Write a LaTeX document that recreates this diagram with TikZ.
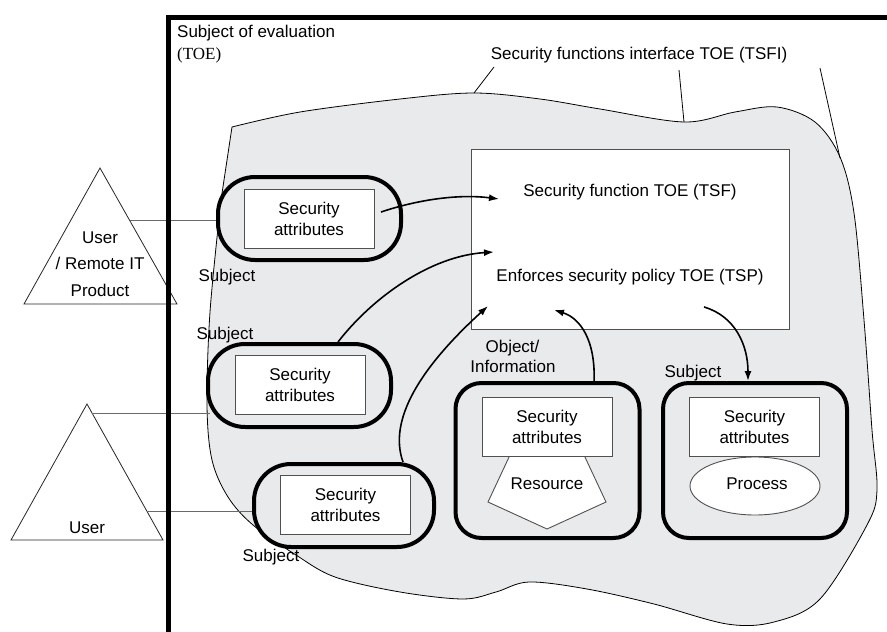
\documentclass[tikz,border=0pt]{standalone}
\usepackage{fontspec}
\setmainfont{Liberation Sans}
\newfontfamily\timesfont{Liberation Serif}
\usetikzlibrary{arrows.meta,shapes.geometric}
\definecolor{blobfill}{RGB}{233,234,236}
\definecolor{linegray}{RGB}{105,105,105}
\definecolor{rectgray}{RGB}{80,80,80}
\begin{document}
\begin{tikzpicture}[x=1pt,y=-1pt,
  every node/.style={font=\fontsize{17}{20.5}\selectfont, inner sep=0pt},
  subjbox/.style={draw=black, fill=blobfill, line width=4pt, rounded corners=37pt, minimum width=183pt, minimum height=83pt},
  bigbox/.style={draw=black, fill=blobfill, line width=4pt, rounded corners=26pt, minimum width=184pt, minimum height=155pt},
  attrbox/.style={draw=rectgray, line width=0.9pt, fill=white, minimum width=130pt, minimum height=59pt, align=center},
  arr/.style={line width=1.6pt, -{Latex[length=10pt,width=7pt]}},
  conn/.style={draw=linegray, line width=1pt},
  leader/.style={line width=0.8pt},
  tri/.style={draw=black!85, line width=0.8pt, fill=white},
  lbl/.style={anchor=base}
]
\useasboundingbox (0,0) rectangle (887,632);

% blob (TOE security functions area)
\draw[fill=blobfill, line width=0.8pt, line join=round] plot[smooth, tension=0.55] coordinates {
 (232,127) (300,112) (400,99) (474,93) (540,99) (600,109) (684,122) (735,112)
 (777,107) (815,122) (840,157) (854,213) (864,320) (872,430) (877,490) (867,525)
 (820,599) (774,622) (727,624) (654,604) (587,589) (529,582) (496,592) (463,599)
 (400,592) (335,577) (296,555) (253,525) (228,497) (212,460) (207,405) (210,312) (221,200)} -- cycle;

% TSFI label and leader lines
\node[lbl] (tsfi) at (639,59) {Security functions interface TOE (TSFI)};
\coordinate (l1a) at (494,67); \coordinate (l1b) at (474,93);
\coordinate (l2a) at (679,70); \coordinate (l2b) at (684,122);
\coordinate (l3a) at (820,68); \coordinate (l3b) at (840,158);
\draw[leader] (l1a) -- (l1b);
\draw[leader] (l2a) -- (l2b);
\draw[leader] (l3a) -- (l3b);

% TSF rectangle
\node[draw=rectgray, line width=0.9pt, fill=white, minimum width=318pt, minimum height=180pt] (tsf) at (630,239) {};
\node[lbl] (tsftxt) at (630,196) {Security function TOE (TSF)};
\node[lbl] (tsptxt) at (630,281) {Enforces security policy TOE (TSP)};

% triangles (users)
\draw[tri] (100,168) -- (177,304) -- (24,304) -- cycle;
\draw[tri] (87,404) -- (163,540) -- (11,540) -- cycle;
\node[lbl] (u1a) at (100,243) {User};
\node[lbl] (u1b) at (100,269) {/ Remote IT};
\node[lbl] (u1c) at (100,296) {Product};
\node[lbl] (u2) at (87,533) {User};

% subject boxes
\node[subjbox] (sb1) at (309.5,218.5) {};
\node[subjbox] (sb2) at (299.5,385.5) {};
\node[subjbox, minimum width=180pt] (sb3) at (344,505.5) {};
\node[bigbox] (ob4) at (547.5,460.5) {};
\node[bigbox] (sb5) at (755,460.5) {};

% connectors from users
\coordinate (t1r) at (129.5,220);
\coordinate (t2ra) at (92,413);
\coordinate (t2rb) at (147,511);
\draw[conn] (t1r) -- (sb1.west |- t1r);
\draw[conn] (t2ra) -- (210,413) coordinate (sb2l);
\draw[conn] (t2rb) -- (sb3.west |- t2rb);

% inner shapes
\draw[draw=rectgray, line width=0.9pt, fill=white] (510,455) -- (488,502) -- (547,529) -- (606,502) -- (584,455);
\node[draw=rectgray, line width=0.9pt, fill=white, ellipse, minimum width=130pt, minimum height=58pt] (proc) at (755,486) {};
\node[attrbox] (a1) at (309,219) {Security\\attributes};
\node[attrbox] (a2) at (300,385) {Security\\attributes};
\node[attrbox] (a3) at (345.5,505) {Security\\attributes};
\node[attrbox] (a4) at (547,427) {Security\\attributes};
\node[attrbox] (a5) at (754.5,427) {Security\\attributes};
\node[lbl] (res) at (547,489) {Resource};
\node[lbl] (proctxt) at (757,489) {Process};

% labels
\node[lbl, anchor=base west] (soe) at (177,37) {Subject of evaluation};
\node[lbl, anchor=base west] (toe) at (177,59) {\timesfont(TOE)};
\node[lbl] (s1) at (227,281) {Subject};
\node[lbl] (s2) at (225,339) {Subject};
\node[lbl] (s3) at (271,561) {Subject};
\node[lbl] (s5) at (693,377) {Subject};
\node[lbl] (obj1) at (512.5,352) {Object/};
\node[lbl] (obj2) at (513,372) {Information};

% arrows
\coordinate (a1s) at (381,212); \coordinate (a1e) at (499,199);
\coordinate (a2s) at (338,342); \coordinate (a2e) at (494,252);
\coordinate (a3s) at (403,462); \coordinate (a3e) at (488,306);
\coordinate (a4s) at (594,383); \coordinate (a4e) at (554,310);
\coordinate (a5s) at (704,307); \coordinate (a5e) at (748,381);
\draw[arr] (a1s) .. controls (420,199) and (460,194) .. (a1e);
\draw[arr] (a2s) .. controls (372,298) and (430,256) .. (a2e);
\draw[arr] (a3s) .. controls (388,420) and (420,368) .. (a3e);
\draw[arr] (a4s) .. controls (596,340) and (580,318) .. (a4e);
\draw[arr] (a5s) .. controls (735,316) and (748,345) .. (a5e);

% TOE frame
\draw[line width=5pt] (887,17.5) -- (168,17.5) -- (168,632);
\end{tikzpicture}
\end{document}
